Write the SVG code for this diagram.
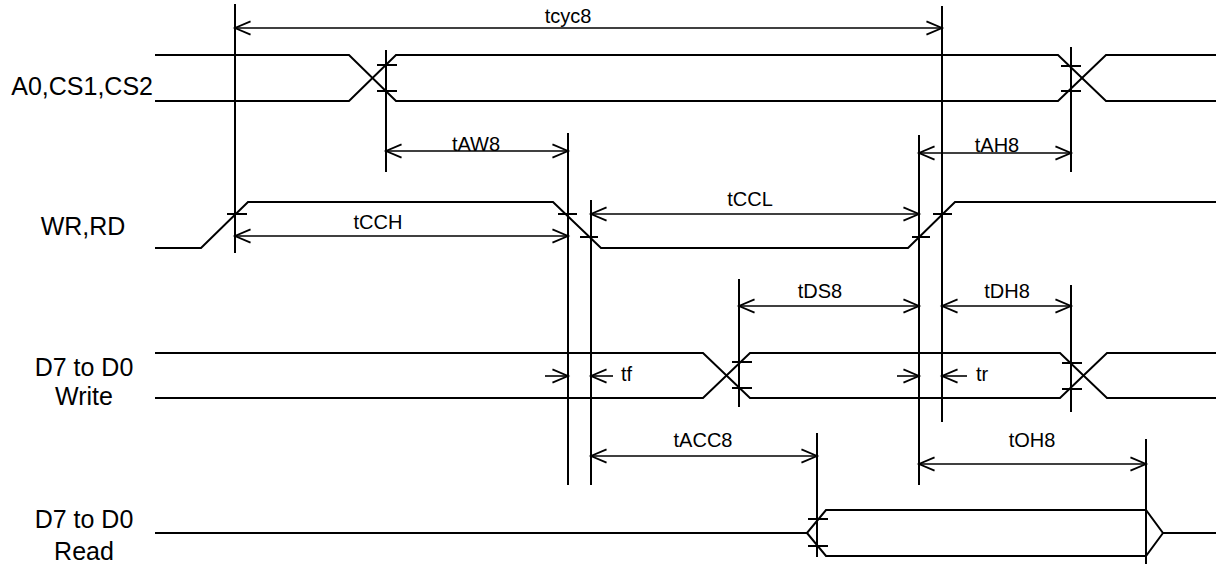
<svg xmlns="http://www.w3.org/2000/svg" width="1216" height="564" viewBox="0 0 1216 564">
<style>
.sig{fill:none;stroke:#000;stroke-width:2;stroke-linejoin:miter}
.ref{stroke:#000;stroke-width:2}
.tick{stroke:#000;stroke-width:2}
.dim{stroke:#000;stroke-width:1.6;fill:none}
.dbl{marker-start:url(#ah);marker-end:url(#ah)}
.one{marker-end:url(#ah)}
.lbl{font-family:"Liberation Sans",Arial,sans-serif;font-size:25px;fill:#000;text-anchor:middle}
.dl{font-family:"Liberation Sans",Arial,sans-serif;font-size:20px;fill:#000;text-anchor:middle}
</style>
<defs>
<marker id="ah" markerUnits="userSpaceOnUse" markerWidth="20" markerHeight="20" refX="0" refY="0" viewBox="-16 -8 18 16" orient="auto-start-reverse" overflow="visible">
<path d="M-14,-6 L0,0 L-14,6" fill="none" stroke="#000" stroke-width="1.6"/>
</marker>
</defs>
<rect width="1216" height="564" fill="#fff"/>
<g id="label-a0">
<text class="lbl" x="153" y="95" style="text-anchor:end">A0,CS1,CS2</text>
</g>
<g id="label-wr">
<text class="lbl" x="83" y="235">WR,RD</text>
</g>
<g id="label-dwrite">
<text class="lbl" x="84" y="376">D7 to D0</text>
<text class="lbl" x="84" y="405">Write</text>
</g>
<g id="label-dread">
<text class="lbl" x="84" y="528">D7 to D0</text>
<text class="lbl" x="84" y="560">Read</text>
</g>
<g id="signal-a0">
<path class="sig" d="M155,55 H349 L396,101 H1058 L1106,55 H1216"/>
<path class="sig" d="M155,101 H349 L396,55 H1058 L1106,101 H1216"/>
</g>
<g id="signal-wr">
<path class="sig" d="M155,248 H201 L248,202 H553 L601,248 H908 L955,202 H1216"/>
</g>
<g id="signal-dwrite">
<path class="sig" d="M155,353 H703 L750,398 H1060 L1107,353 H1216"/>
<path class="sig" d="M155,398 H703 L750,353 H1060 L1107,398 H1216"/>
</g>
<g id="signal-dread">
<path class="sig" d="M155,533 H807 L826,510 H1146 L1163,533 H1216"/>
<path class="sig" d="M807,533 L826,556 H1146 L1163,533"/>
</g>
<g id="connectors">
<g id="ref-lines">
<line class="ref" x1="235" y1="4" x2="235" y2="253"/>
<line class="ref" x1="386" y1="50" x2="386" y2="172"/>
<line class="ref" x1="568" y1="133" x2="568" y2="485"/>
<line class="ref" x1="591" y1="200" x2="591" y2="485"/>
<line class="ref" x1="919" y1="135" x2="919" y2="485"/>
<line class="ref" x1="942" y1="6" x2="942" y2="422"/>
<line class="ref" x1="1071" y1="47" x2="1071" y2="172"/>
<line class="ref" x1="739" y1="279" x2="739" y2="407"/>
<line class="ref" x1="1071" y1="285" x2="1071" y2="412"/>
<line class="ref" x1="817" y1="433" x2="817" y2="557"/>
<line class="ref" x1="1146" y1="439" x2="1146" y2="564"/>
</g>
<g id="ticks">
<line class="tick" x1="377" y1="65" x2="397" y2="65"/>
<line class="tick" x1="377" y1="91" x2="397" y2="91"/>
<line class="tick" x1="1061" y1="66" x2="1081" y2="66"/>
<line class="tick" x1="1061" y1="91" x2="1081" y2="91"/>
<line class="tick" x1="227" y1="214" x2="247" y2="214"/>
<line class="tick" x1="558" y1="214" x2="577" y2="214"/>
<line class="tick" x1="580" y1="237" x2="598" y2="237"/>
<line class="tick" x1="912" y1="237" x2="930" y2="237"/>
<line class="tick" x1="933" y1="214" x2="952" y2="214"/>
<line class="tick" x1="732" y1="362" x2="752" y2="362"/>
<line class="tick" x1="732" y1="388" x2="752" y2="388"/>
<line class="tick" x1="1062" y1="363" x2="1082" y2="363"/>
<line class="tick" x1="1062" y1="389" x2="1082" y2="389"/>
<line class="tick" x1="808" y1="519" x2="828" y2="519"/>
<line class="tick" x1="808" y1="546" x2="828" y2="546"/>
</g>
<g id="dimensions">
<line class="dim dbl" x1="235" y1="28" x2="942" y2="28"/>
<line class="dim dbl" x1="386" y1="151" x2="568" y2="151"/>
<line class="dim dbl" x1="919" y1="153" x2="1071" y2="153"/>
<line class="dim dbl" x1="235" y1="236" x2="568" y2="236"/>
<line class="dim dbl" x1="591" y1="214" x2="919" y2="214"/>
<line class="dim dbl" x1="739" y1="306" x2="919" y2="306"/>
<line class="dim dbl" x1="942" y1="306" x2="1071" y2="306"/>
<line class="dim one" x1="545" y1="376" x2="568" y2="376"/>
<line class="dim one" x1="613" y1="376" x2="591" y2="376"/>
<line class="dim one" x1="897" y1="376" x2="919" y2="376"/>
<line class="dim one" x1="967" y1="376" x2="942" y2="376"/>
<line class="dim dbl" x1="591" y1="456" x2="817" y2="456"/>
<line class="dim dbl" x1="919" y1="464" x2="1146" y2="464"/>
</g>
</g>
<g id="dim-labels">
<text class="dl" x="568" y="23">tcyc8</text>
<text class="dl" x="476" y="151">tAW8</text>
<text class="dl" x="997" y="152">tAH8</text>
<text class="dl" x="378" y="229">tCCH</text>
<text class="dl" x="750" y="206">tCCL</text>
<text class="dl" x="820" y="298">tDS8</text>
<text class="dl" x="1007" y="298">tDH8</text>
<text class="dl" x="621" y="381" style="text-anchor:start">tf</text>
<text class="dl" x="976" y="381" style="text-anchor:start">tr</text>
<text class="dl" x="703" y="447">tACC8</text>
<text class="dl" x="1032" y="447">tOH8</text>
</g>
</svg>
